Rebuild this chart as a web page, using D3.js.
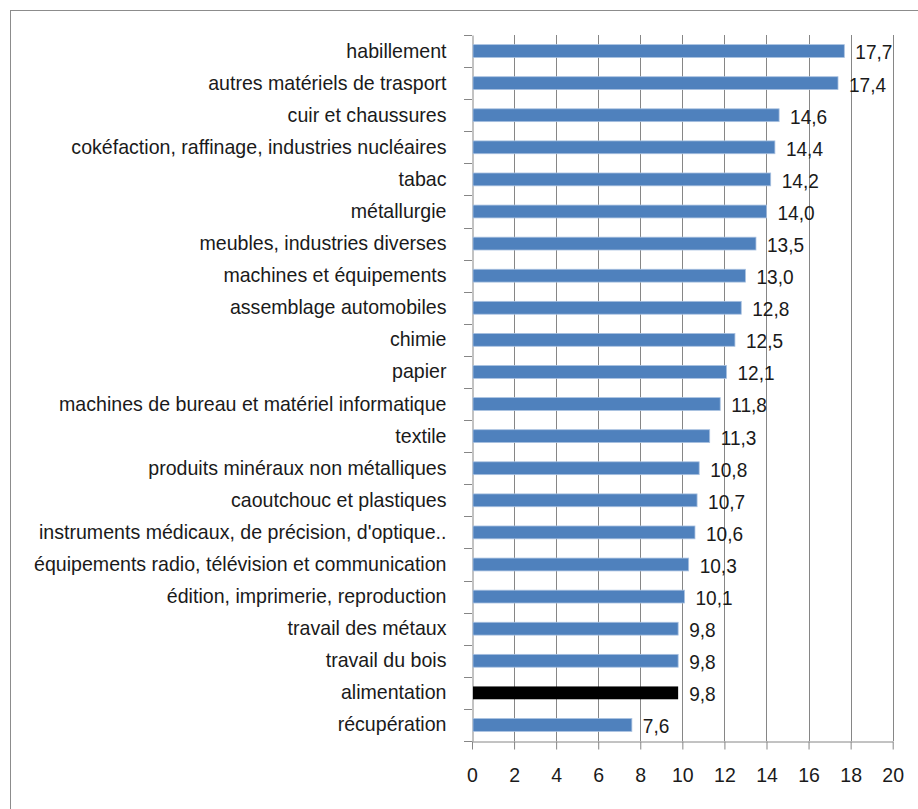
<!DOCTYPE html>
<html><head><meta charset="utf-8">
<script src="https://cdn.jsdelivr.net/npm/d3@7/dist/d3.min.js"></script>
<style>
body{margin:0;background:#fff;}
text{font-family:"Liberation Sans","Arimo",Arial,sans-serif;fill:#1a1a1a;}
</style></head><body>
<svg id="c" width="918" height="809"></svg>
<script>
const categories = ["habillement","autres matériels de trasport","cuir et chaussures","cokéfaction, raffinage, industries nucléaires","tabac","métallurgie","meubles, industries diverses","machines et équipements","assemblage automobiles","chimie","papier","machines de bureau et matériel informatique","textile","produits minéraux non métalliques","caoutchouc et plastiques","instruments médicaux, de précision, d'optique..","équipements radio, télévision  et communication","édition, imprimerie, reproduction","travail des métaux","travail du bois","alimentation","récupération"];
const values = [17.7,17.4,14.6,14.4,14.2,14.0,13.5,13.0,12.8,12.5,12.1,11.8,11.3,10.8,10.7,10.6,10.3,10.1,9.8,9.8,9.8,7.6];
const highlight = ["alimentation"];
const xTicks = [0,2,4,6,8,10,12,14,16,18,20];

(function(){
const svg = d3.select("#c");
svg.append("rect").attr("x",10.5).attr("y",10.5).attr("width",930).attr("height",820)
  .attr("fill","none").attr("stroke","#8c8c8c").attr("stroke-width",1);

const pL=472, pR=892.7, pT=35, pB=741;
const x = d3.scaleLinear().domain([0,20]).range([pL,pR]);
const y = d3.scaleBand().domain(categories).range([pT,pB]).paddingInner(0.6).paddingOuter(0.3);
const yb = d3.scaleBand().domain(categories).range([pT,pB]);

svg.append("g").selectAll("line").data(xTicks.slice(1)).join("line")
  .attr("x1",d=>Math.round(x(d))+0.5).attr("x2",d=>Math.round(x(d))+0.5)
  .attr("y1",pT).attr("y2",pB).attr("stroke","#868686").attr("stroke-width",1);

const xa = svg.append("g").attr("transform",`translate(0,${pB+0.5})`)
  .call(d3.axisBottom(x).tickValues(xTicks).tickSize(8).tickSizeOuter(0).tickPadding(18).tickFormat(d=>d));
xa.select(".domain").attr("stroke","#868686");
xa.selectAll(".tick line").attr("stroke","#868686");
xa.selectAll(".tick text").attr("font-size","21px").attr("fill","#1a1a1a")
  .attr("transform","scale(0.93,1)")
  .style("font-family",'"Liberation Sans",Arial,sans-serif');

const ya = svg.append("g").attr("transform",`translate(${pL+0.5},0)`)
  .call(d3.axisLeft(yb).tickSize(0).tickPadding(25));
ya.select(".domain").attr("stroke","#868686");
ya.selectAll(".tick text").attr("font-size","20.3px").attr("fill","#1a1a1a")
  .attr("x",-26/0.965).attr("transform","scale(0.965,1)")
  .style("font-family",'"Liberation Sans",Arial,sans-serif');
svg.append("g").selectAll("line").data(d3.range(categories.length+1)).join("line")
  .attr("x1",pL-8).attr("x2",pL).attr("y1",i=>Math.round(pT+i*yb.step())+0.5).attr("y2",i=>Math.round(pT+i*yb.step())+0.5)
  .attr("stroke","#868686");

svg.append("g").selectAll("rect").data(categories).join("rect")
  .attr("x",pL+1).attr("y",d=>y(d)).attr("height",y.bandwidth())
  .attr("width",(d,i)=>x(values[i])-pL-1)
  .attr("fill",d=>highlight.includes(d)?"#000":"#4F81BD")
  .attr("stroke",d=>highlight.includes(d)?"none":"#a9c1e0").attr("stroke-width",0.8);

svg.append("g").selectAll("text").data(categories).join("text")
  .attr("transform",(d,i)=>`translate(${x(values[i])+11},${y(d)+y.bandwidth()/2+1}) scale(0.93,1)`)
  .attr("dy","0.36em")
  .attr("font-size","20.5px")
  .text((d,i)=>values[i].toFixed(1).replace(".",","));
})();
</script></body></html>
